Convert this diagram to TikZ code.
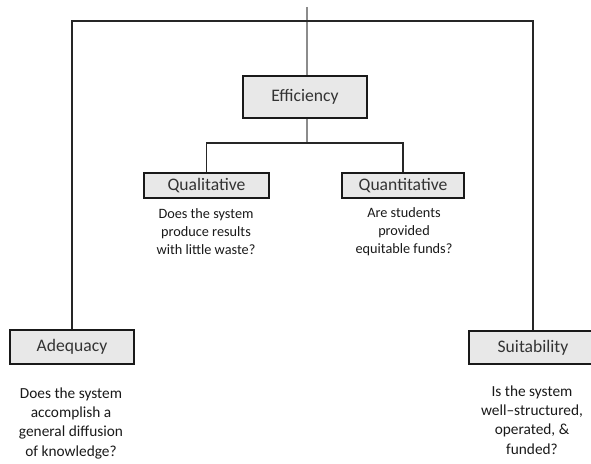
\documentclass[tikz,border=0pt]{standalone}
\usepackage{fontspec}
\setmainfont{Carlito}
\usetikzlibrary{positioning}
\definecolor{boxgray}{HTML}{E8E8E8}
\definecolor{stemgray}{HTML}{8C8C8C}
\tikzset{
  crit/.style={draw=black!90, fill=boxgray, line width=1.4pt, inner sep=0pt,
    font=\fontsize{13.2}{15}\selectfont, text=black!80},
  ques/.style={align=center, inner sep=0pt, text=black!90},
  link/.style={draw=black!85, line width=0.8pt},
}

\begin{document}
\begin{tikzpicture}[x=0.75pt,y=-0.75pt]
        \clip (0,0) rectangle (591,463);
        % criteria boxes
        \node[crit, minimum width=93pt, minimum height=31.5pt] (eff) at (305,97) {Efficiency};
        \node[crit, minimum width=94pt, minimum height=19pt] (qual) at (206.5,185.5) {Qualitative};
        \node[crit, minimum width=91.5pt, minimum height=19pt] (quan) at (403,185.5) {Quantitative};
        \node[crit, minimum width=93pt, minimum height=25.5pt] (ade) at (72,347) {Adequacy};
        \node[crit, minimum width=96pt, minimum height=25pt] (suit) at (533,347.5) {Suitability};
        % questions
        \node[ques, font=\fontsize{10.7}{13.5}\selectfont] (qualq) at (206,232) {Does the system\\produce results\\with little waste?};
        \node[ques, font=\fontsize{10.7}{13.5}\selectfont] (quanq) at (404,232) {Are students\\provided\\equitable funds?};
        \node[ques, font=\fontsize{11.5}{14.5}\selectfont] (adeq) at (71,423) {Does the system\\accomplish a\\general diffusion\\of knowledge?};
        \node[ques, font=\fontsize{11.5}{14.5}\selectfont] (suitq) at (532,420) {Is the system\\well–structured,\\operated, \&\\funded?};
        % connectors
        \coordinate (top) at (307,7);
        \coordinate (cross) at (307,21);
        \coordinate (split) at (307,143);
        \draw[stemgray, line width=1pt] (top) -- (top |- eff.north);
        \draw[stemgray, line width=1pt] (top |- eff.south) -- (split);
        \draw[link] (ade.north) |- (cross) -| (suit.north);
        \draw[link] (qual.north) |- (split) -| (quan.north);
\end{tikzpicture}
\end{document}
